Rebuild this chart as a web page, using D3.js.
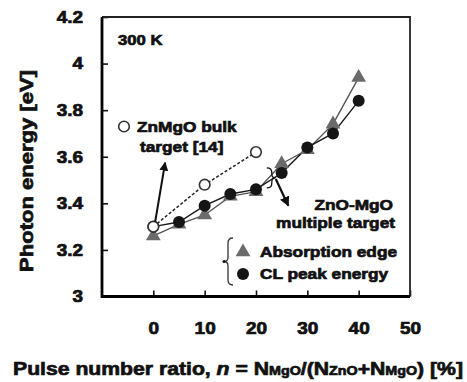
<!DOCTYPE html>
<html>
<head>
<meta charset="utf-8">
<script src="https://cdn.jsdelivr.net/npm/d3@7/dist/d3.min.js"></script>
<style>
  html, body { margin: 0; padding: 0; background: #fff; }
  svg { display: block; }
  text { font-family: "Liberation Sans", Arial, Helvetica, sans-serif; font-weight: bold; fill: #111; }
</style>
</head>
<body>
<svg id="chart" width="467" height="382"></svg>
<script>
// Pulse number ratio n (%) and photon energies (eV) at 300 K
const xTickValues = [0, 10, 20, 30, 40, 50];
const yTickValues = [3, 3.2, 3.4, 3.6, 3.8, 4, 4.2];

// ZnO-MgO multiple target: absorption edge
const absRatio = [0, 5, 10, 15, 20, 25, 30, 35, 40];
const absEnergy = [3.26, 3.31, 3.35, 3.43, 3.45, 3.57, 3.63, 3.74, 3.94];

// ZnO-MgO multiple target: CL peak energy
const clRatio = [0, 5, 10, 15, 20, 25, 30, 35, 40];
const clEnergy = [3.30, 3.32, 3.39, 3.44, 3.46, 3.53, 3.64, 3.70, 3.84];

// ZnMgO bulk target [14]
const bulkRatio = [0, 10, 20];
const bulkEnergy = [3.30, 3.48, 3.62];

const svg = d3.select("#chart");
const plotL = 102, plotR = 410, plotT = 17, plotB = 296.5;

const x = d3.scaleLinear().domain([-10, 50]).range([plotL, plotR]);
const y = d3.scaleLinear().domain([3, 4.2]).range([plotB, plotT]);

const STRETCH = 1.15;
const INK = 0.7;
const widen = sel => sel.each(function () {
  const len = this.getComputedTextLength();
  d3.select(this).attr("textLength", len * STRETCH).attr("lengthAdjust", "spacingAndGlyphs");
});

// axes with inward ticks
const yAxis = svg.append("g")
  .attr("transform", `translate(${plotL},0)`)
  .call(d3.axisLeft(y).tickValues(yTickValues).tickSize(-6).tickPadding(19)
    .tickFormat(d => d3.format("~g")(d)));
const xAxis = svg.append("g")
  .attr("transform", `translate(0,${plotB})`)
  .call(d3.axisBottom(x).tickValues(xTickValues).tickSize(-6).tickPadding(26));
[yAxis, xAxis].forEach(g => {
  g.select(".domain").remove();
  g.selectAll(".tick line").attr("stroke", "#111").attr("stroke-width", 1.6);
  g.selectAll(".tick text")
    .style("font-family", '"Liberation Sans", Arial, sans-serif')
    .style("font-weight", "bold").style("font-size", "16.5px")
    .attr("fill", "#111").attr("stroke", "#111").attr("stroke-width", INK)
    .call(widen);
});

// frame
svg.append("path")
  .attr("d", `M${plotL},${plotT}H${plotR}V${plotB}`)
  .attr("fill", "none").attr("stroke", "#222").attr("stroke-width", 1.8);
svg.append("path")
  .attr("d", `M${plotL},${plotT}V${plotB}H${plotR}`)
  .attr("fill", "none").attr("stroke", "#000").attr("stroke-width", 2.8);

// series lines
const absPts = absRatio.map((r, i) => [r, absEnergy[i]]);
const clPts = clRatio.map((r, i) => [r, clEnergy[i]]);
const bulkPts = bulkRatio.map((r, i) => [r, bulkEnergy[i]]);
const line = d3.line().x(d => x(d[0])).y(d => y(d[1]));

svg.append("path").datum(bulkPts).attr("d", line)
  .attr("fill", "none").attr("stroke", "#222").attr("stroke-width", 1.5)
  .attr("stroke-dasharray", "3,2");
svg.append("path").datum(absPts).attr("d", line)
  .attr("fill", "none").attr("stroke", "#555").attr("stroke-width", 1.4);
svg.append("path").datum(clPts).attr("d", line)
  .attr("fill", "none").attr("stroke", "#1a1a1a").attr("stroke-width", 1.4);

// markers
const tri = d3.symbol(d3.symbolTriangle, 95);
svg.append("g").selectAll("path").data(absPts).join("path")
  .attr("d", tri).attr("transform", d => `translate(${x(d[0])},${y(d[1])})`)
  .attr("fill", "#6b6b6b");
svg.append("g").selectAll("circle").data(clPts).join("circle")
  .attr("cx", d => x(d[0])).attr("cy", d => y(d[1])).attr("r", 6)
  .attr("fill", "#151515");
svg.append("g").selectAll("circle").data(bulkPts).join("circle")
  .attr("cx", d => x(d[0])).attr("cy", d => y(d[1])).attr("r", 5.3)
  .attr("fill", "#fff").attr("stroke", "#333").attr("stroke-width", 1.6);

// annotation arrows
const defs = svg.append("defs");
defs.append("marker").attr("id", "head").attr("viewBox", "0 0 10 10")
  .attr("refX", 9).attr("refY", 5).attr("markerWidth", 4.5).attr("markerHeight", 4.5)
  .attr("orient", "auto").attr("markerUnits", "strokeWidth")
  .append("path").attr("d", "M0,0L10,5L0,10Z").attr("fill", "#111");

svg.append("line")
  .attr("x1", x(0.35)).attr("y1", y(3.32)).attr("x2", x(2.3)).attr("y2", y(3.575))
  .attr("stroke", "#111").attr("stroke-width", 2).attr("marker-end", "url(#head)");

// small brace joining the two series near n = 20-25
const bx = x(22.1), by1 = y(3.552), by2 = y(3.466), bm = (by1 + by2) / 2;
svg.append("path")
  .attr("d", `M${bx},${by1} q5,0 5,4.5 v1.5 q0,4 4,4 q-4,0 -4,4 v1.5 q0,4.5 -5,4.5`)
  .attr("fill", "none").attr("stroke", "#111").attr("stroke-width", 1.3);
svg.append("line")
  .attr("x1", bx + 9).attr("y1", bm + 1).attr("x2", x(26.3)).attr("y2", y(3.39))
  .attr("stroke", "#111").attr("stroke-width", 2.2).attr("marker-end", "url(#head)");

// text annotations
const label = (tx, ty, str, size, anchor) => svg.append("text")
  .attr("x", tx).attr("y", ty).attr("text-anchor", anchor || "start")
  .style("font-size", size + "px").attr("stroke", "#111").attr("stroke-width", INK)
  .text(str).call(widen);

label(118, 45, "300 K", 14.5);

svg.append("circle").attr("cx", 124).attr("cy", 126.5).attr("r", 5.3)
  .attr("fill", "#fff").attr("stroke", "#333").attr("stroke-width", 1.6);
label(137, 132, "ZnMgO bulk", 15);
label(140, 152, "target [14]", 15);

label(393, 210, "ZnO-MgO", 15, "end");
label(395, 228, "multiple target", 15, "end");

svg.append("path").attr("d", tri).attr("transform", "translate(243,252)").attr("fill", "#6b6b6b");
label(260, 257, "Absorption edge", 15);
svg.append("circle").attr("cx", 243).attr("cy", 274).attr("r", 6).attr("fill", "#151515");
label(260, 279, "CL peak energy", 15);

// legend brace
svg.append("path")
  .attr("d", "M233,238 q-5,0 -5,5 v14 q0,4.5 -4,4.5 q4,0 4,4.5 v14 q0,5 5,5")
  .attr("fill", "none").attr("stroke", "#333").attr("stroke-width", 1.3);
svg.append("circle").attr("cx", 224).attr("cy", 261.5).attr("r", 1.5).attr("fill", "#111");

// axis titles
svg.append("text")
  .attr("transform", "translate(33,171) rotate(-90)")
  .attr("text-anchor", "middle")
  .style("font-size", "18.5px").attr("stroke", "#111").attr("stroke-width", INK)
  .attr("textLength", 202).attr("lengthAdjust", "spacingAndGlyphs")
  .text("Photon energy [eV]");

const xt = svg.append("text").attr("x", 13).attr("y", 375)
  .style("font-size", "18.5px").attr("stroke", "#111").attr("stroke-width", INK);
const parts = [
  ["Pulse number ratio, ", "n"], ["n", "i"], [" = N", "n"], ["MgO", "s"],
  ["/(N", "n"], ["ZnO", "s"], ["+N", "n"], ["MgO", "s"], [") [%]", "n"]
];
parts.forEach(([t, k]) => {
  const ts = xt.append("tspan").text(t);
  if (k === "i") ts.style("font-style", "italic");
  if (k === "s") ts.style("font-size", "12.5px");
});
xt.attr("textLength", 450).attr("lengthAdjust", "spacingAndGlyphs");
</script>
</body>
</html>
